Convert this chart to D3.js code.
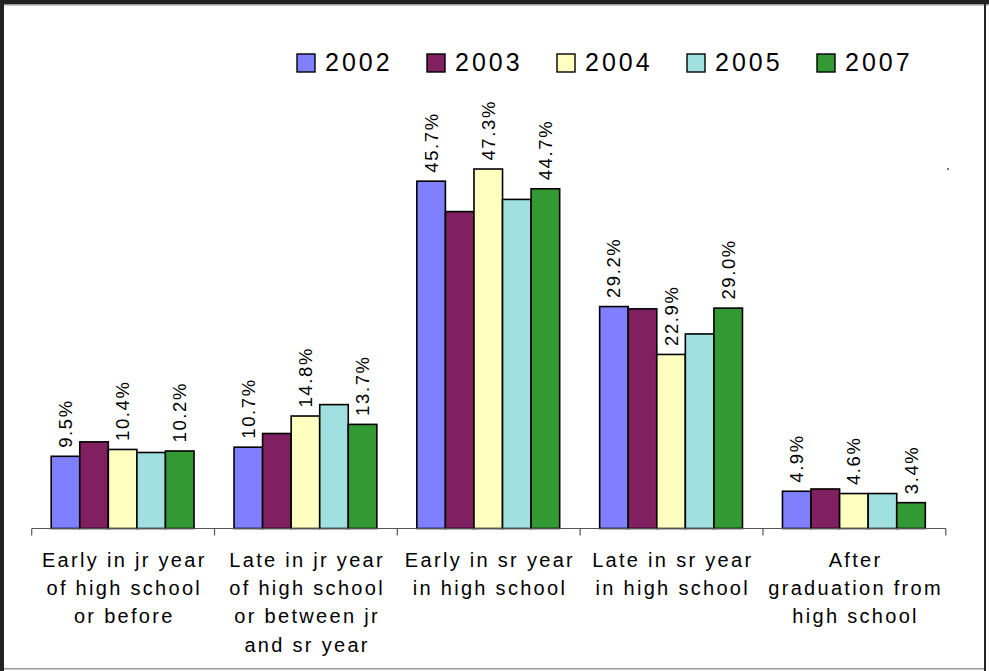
<!DOCTYPE html>
<html><head><meta charset="utf-8">
<script src="https://cdn.jsdelivr.net/npm/d3@7"></script>
<style>body{margin:0;background:#fff;}svg{display:block;}text{font-family:"Liberation Sans",Arial,sans-serif;fill:#000;}</style>
</head><body><div id="chart"></div>
<script>
const categories = [
  ["Early in jr year","of high school","or before"],
  ["Late in jr year","of high school","or between jr","and sr year"],
  ["Early in sr year","in high school"],
  ["Late in sr year","in high school"],
  ["After","graduation from","high school"]
];
const seriesNames = ["2002","2003","2004","2005","2007"];
const colors = ["#8080FF","#802060","#FFFFC0","#A0E0E0","#339933"];
const v2002 = [9.5, 10.7, 45.7, 29.2, 4.9];
const v2003 = [11.4, 12.5, 41.7, 28.9, 5.2];
const v2004 = [10.4, 14.8, 47.3, 22.9, 4.6];
const v2005 = [10.0, 16.3, 43.3, 25.6, 4.6];
const v2007 = [10.2, 13.7, 44.7, 29.0, 3.4];
const values = [v2002, v2003, v2004, v2005, v2007];
const labeledSeries = ["2002","2004","2007"];

const W = 989, H = 671;
const svg = d3.select("#chart").append("svg").attr("width", W).attr("height", H);

// frame
svg.append("rect").attr("x",0).attr("y",0).attr("width",W).attr("height",4).attr("fill","#222");
svg.append("rect").attr("x",0).attr("y",4).attr("width",W).attr("height",1.5).attr("fill","#999");
svg.append("rect").attr("x",0).attr("y",0).attr("width",4).attr("height",H).attr("fill","#222");
svg.append("rect").attr("x",984).attr("y",0).attr("width",2).attr("height",H).attr("fill","#222");
svg.append("rect").attr("x",4).attr("y",668).attr("width",980).attr("height",1.5).attr("fill","#999");
svg.append("rect").attr("x",947).attr("y",168).attr("width",2).attr("height",2).attr("fill","#777");

const x0 = d3.scaleBand().domain(d3.range(categories.length)).range([31.7, 945.8]).paddingInner(0).paddingOuter(0);
const x1 = d3.scaleBand().domain(seriesNames).range([19.5, x0.bandwidth() - 20.5]);
const y = d3.scaleLinear().domain([0, 50]).range([528.5, 148.5]);

// bars
const groups = svg.append("g").selectAll("g").data(categories).join("g")
  .attr("transform", (d,i) => `translate(${x0(i)},0)`);
groups.each(function(cat, ci){
  const g = d3.select(this);
  seriesNames.forEach((s, si) => {
    const val = values[si][ci];
    g.append("rect")
      .attr("x", x1(s)).attr("y", y(val))
      .attr("width", x1.bandwidth()).attr("height", y(0) - y(val))
      .attr("fill", colors[si]).attr("stroke", "#000").attr("stroke-width", 1.6);
    if (labeledSeries.includes(s)) {
      const cx = x1(s) + x1.bandwidth()/2;
      g.append("text")
        .attr("transform", `translate(${cx + 6.5},${y(val) - 8.5}) rotate(-90)`)
        .attr("font-size", 18.5).attr("letter-spacing", 1.6)
        .text(val.toFixed(1) + "%");
    }
  });
});

// axis line and category ticks
const tickPos = d3.range(categories.length + 1).map(i => i < categories.length ? x0(i) : x0(i-1) + x0.bandwidth());
svg.append("line").attr("x1", tickPos[0]).attr("x2", tickPos[tickPos.length-1]).attr("y1", 528.5).attr("y2", 528.5)
  .attr("stroke", "#555").attr("stroke-width", 1.2);
svg.append("g").selectAll("line").data(tickPos).join("line")
  .attr("x1", d => d).attr("x2", d => d).attr("y1", 528.5).attr("y2", 535.5)
  .attr("stroke", "#555").attr("stroke-width", 1.2);

// category labels
const catG = svg.append("g");
categories.forEach((lines, i) => {
  const cx = x0(i) + x0.bandwidth()/2 + 1.2;
  const t = catG.append("text").attr("text-anchor","middle").attr("font-size",20).attr("letter-spacing",2.3);
  lines.forEach((ln, k) => {
    t.append("tspan").attr("x", cx).attr("y", 566.7 + k*28.3).text(ln);
  });
});

// legend
const leg = svg.append("g");
seriesNames.forEach((s, i) => {
  const lx = 297 + i*130;
  leg.append("rect").attr("x", lx).attr("y", 54).attr("width", 18).attr("height", 18)
    .attr("fill", colors[i]).attr("stroke", "#000").attr("stroke-width", 1.4);
  leg.append("text").attr("x", lx + 28).attr("y", 70.8).attr("font-size", 25).attr("letter-spacing", 3).text(s);
});
</script></body></html>
